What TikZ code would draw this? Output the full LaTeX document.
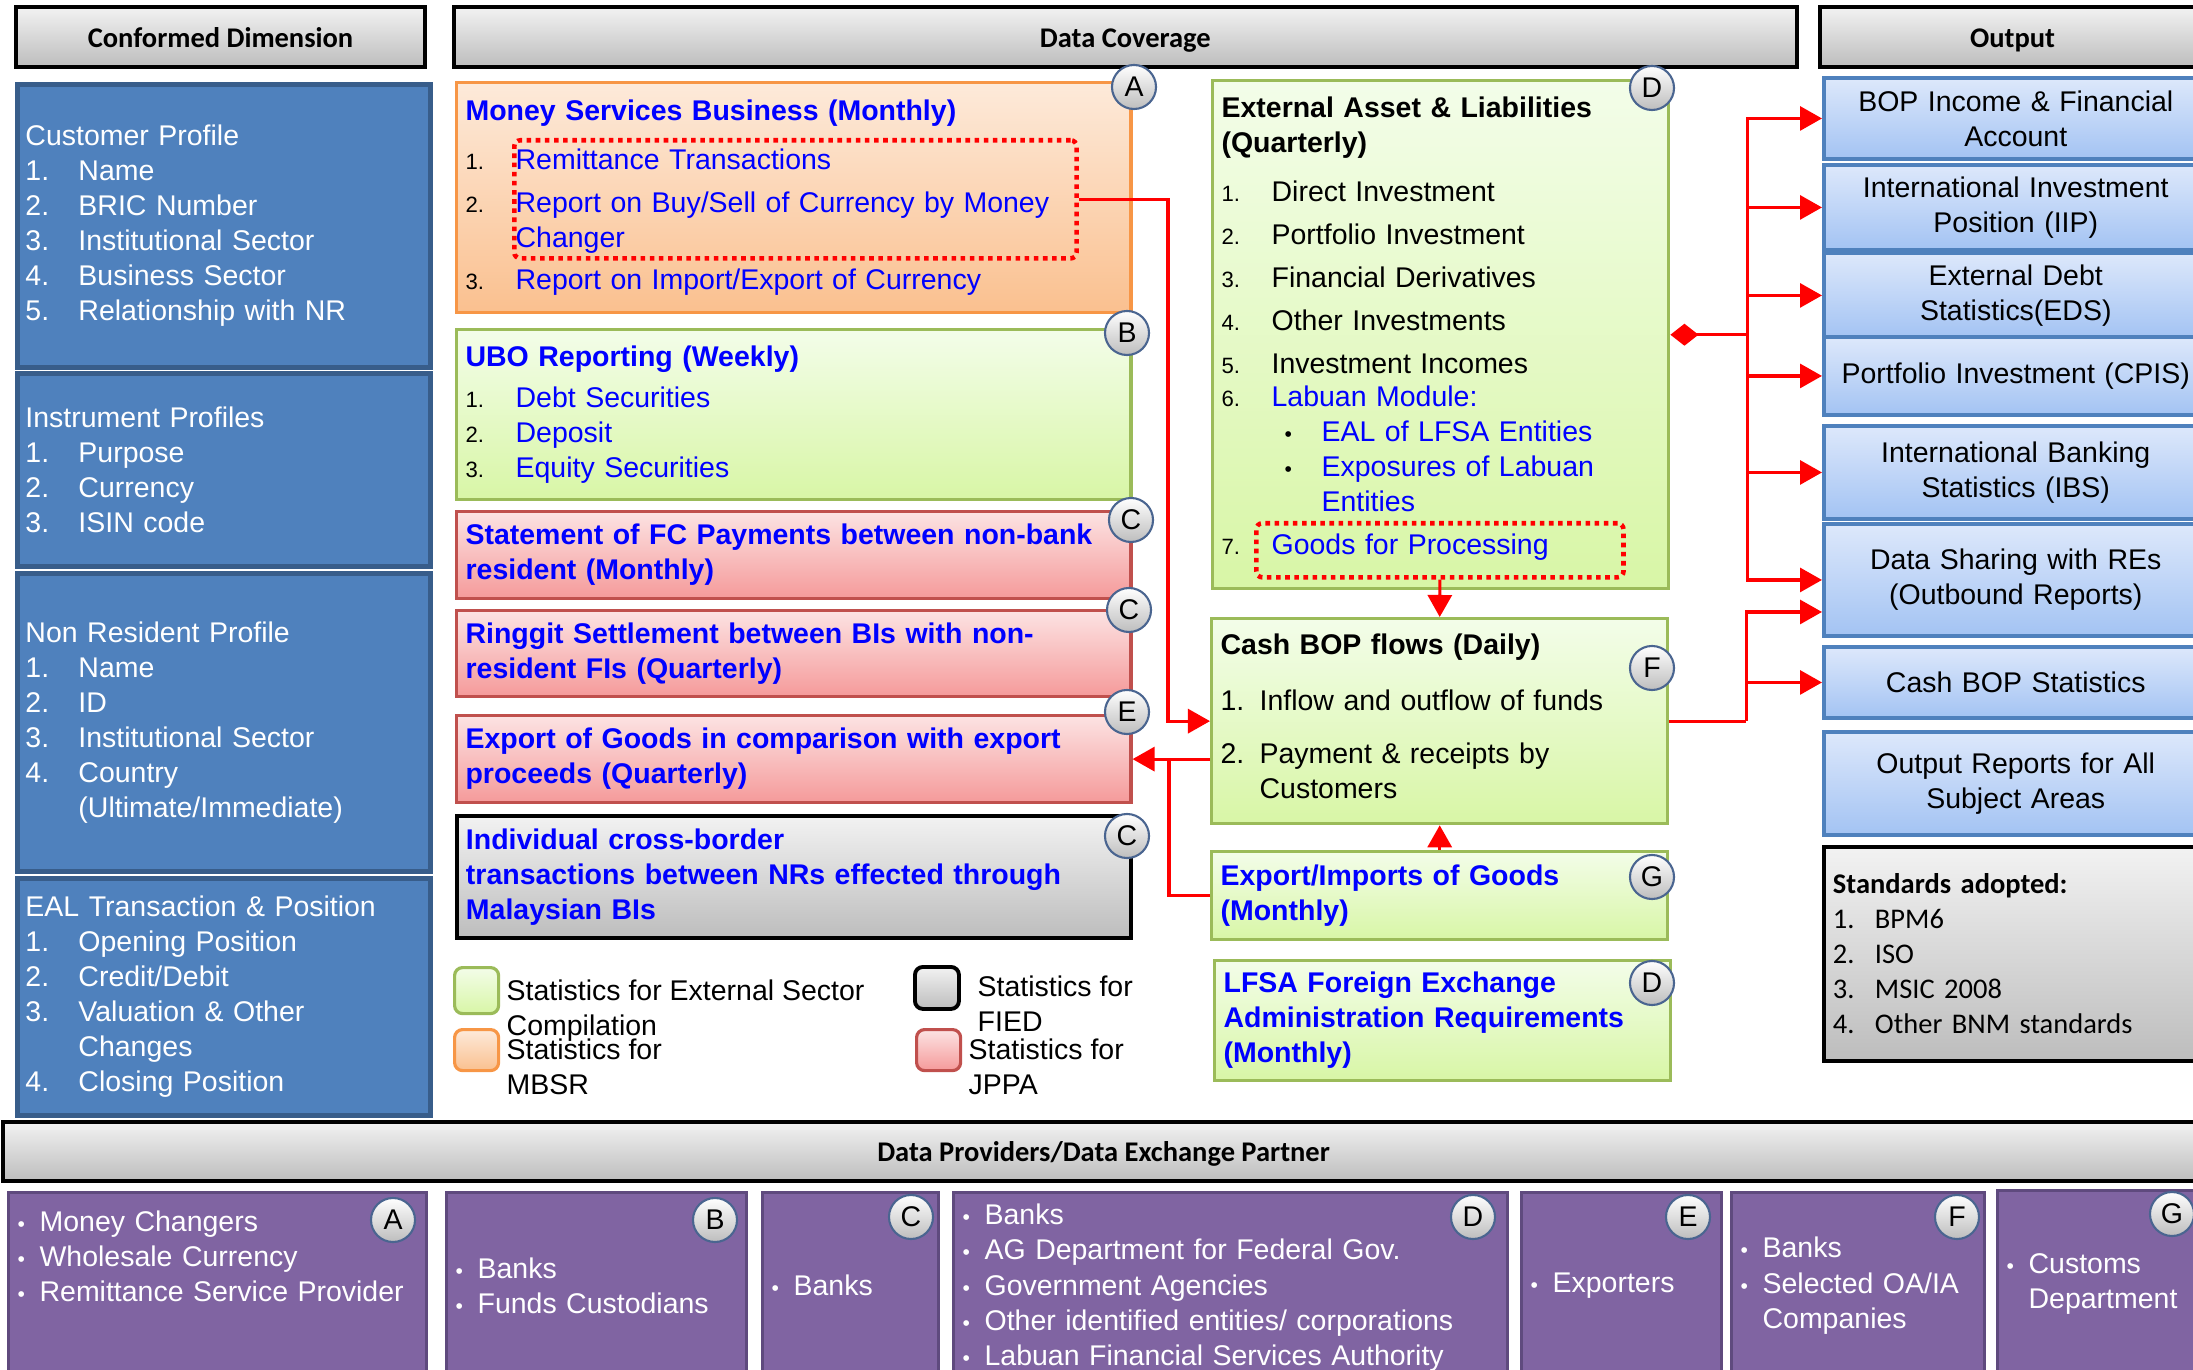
\documentclass[tikz,border=0pt]{standalone}
\usepackage{fontspec}
\setmainfont{Liberation Sans}
\newfontfamily\calibri{Carlito}
\usetikzlibrary{calc, arrows.meta, positioning}

\definecolor{dimblue}{HTML}{4F81BD}
\definecolor{dimedge}{HTML}{385D8A}
\definecolor{linkblue}{HTML}{0000FF}
\definecolor{orgtop}{HTML}{FDEADA}
\definecolor{orgbot}{HTML}{FAC08F}
\definecolor{orgedge}{HTML}{F79646}
\definecolor{grntop}{HTML}{F3FDE9}
\definecolor{grnbot}{HTML}{D8F6A6}
\definecolor{grnedge}{HTML}{9BBB59}
\definecolor{pnktop}{HTML}{FCE3E3}
\definecolor{pnkbot}{HTML}{F59A9A}
\definecolor{pnkedge}{HTML}{C0504D}
\definecolor{grytop}{HTML}{F2F2F2}
\definecolor{grybot}{HTML}{BDBDBD}
\definecolor{outtop}{HTML}{DDE8FB}
\definecolor{outbot}{HTML}{A3C3F3}
\definecolor{outedge}{HTML}{4F81BD}
\definecolor{purp}{HTML}{8064A2}
\definecolor{purpedge}{HTML}{5F4A7E}
\definecolor{badgeedge}{HTML}{4A6590}

\newcommand\fs{\fontsize{8.1}{9.96}\selectfont}
\newcommand\itm[2][0.53cm]{\makebox[#1][l]{#2}}
\newcommand\sn[1]{{\fontsize{6.3}{8}\selectfont #1}}
\newcommand\ttl[1]{{\bfseries\color{linkblue}#1}}
\newcommand\lnk[1]{{\color{linkblue}#1}}
\newcommand\bul{{\fontsize{6}{8}\selectfont\textbullet}}

\tikzset{
  base/.style={anchor=north west, align=left, font=\fs},
  hdr/.style={base, align=center, draw=black, line width=1.1pt, top color=grytop, bottom color=grybot, font=\calibri\bfseries\fs, text height=0.23cm, text depth=0.02cm},
  dimbox/.style={base, draw=dimedge, line width=1.4pt, fill=dimblue, text=white, minimum width=4.13cm, text width=3.97cm, inner xsep=0.08cm},
  covbox/.style={base, minimum width=6.74cm, text width=6.56cm, inner xsep=0.09cm},
  midbox/.style={base, minimum width=4.56cm, text width=4.38cm, inner xsep=0.09cm},
  orgfill/.style={draw=orgedge, line width=0.9pt, top color=orgtop, bottom color=orgbot},
  grnfill/.style={draw=grnedge, line width=0.9pt, top color=grntop, bottom color=grnbot},
  pnkfill/.style={draw=pnkedge, line width=0.9pt, top color=pnktop, bottom color=pnkbot},
  gryfill/.style={draw=black, line width=1.1pt, top color=grytop, bottom color=grybot},
  outbox/.style={base, align=center, draw=outedge, line width=1.1pt, top color=outtop, bottom color=outbot, minimum width=3.78cm, text width=3.6cm},
  provbox/.style={base, draw=purpedge, line width=0.9pt, fill=purp, text=white, minimum height=1.86cm, inner xsep=0.09cm},
  badge/.style={circle, draw=badgeedge, line width=0.6pt, top color=white, bottom color=grybot, minimum size=0.44cm, inner sep=0pt, font=\fs},
  swatch/.style={anchor=north west, rounded corners=0.08cm, minimum width=0.44cm, inner sep=0pt},
  legtext/.style={anchor=west, align=left, font=\fs, inner xsep=0.04cm},
  dotbox/.style={anchor=north west, draw=red, line width=1.3pt, dash pattern=on 1.3pt off 1.3pt, rounded corners=0.06cm, inner sep=0pt},
  wire/.style={draw=red, line width=0.9pt},
  flow/.style={wire, -{Triangle[length=0.22cm, width=0.24cm]}},
}

\begin{document}
\begin{tikzpicture}[x=0.01cm, y=-0.01cm]

  \useasboundingbox (0,0) rectangle (2193,1370);

  \node (hdim) [hdr, minimum width=4.09cm, minimum height=0.6cm] at (14,5) {Conformed Dimension};
  \node (hcov) [hdr, minimum width=13.42cm, minimum height=0.6cm] at (452,5) {Data Coverage};
  \node (hout) [hdr, minimum width=3.85cm, minimum height=0.6cm] at (1818,5) {Output};
  \node (hprov) [hdr, minimum width=22cm, minimum height=0.59cm] at (1,1120) {Data Providers/Data Exchange Partner};

  \node (cust) [dimbox, minimum height=2.83cm] at (15,82) {Customer Profile\\\itm{1.}Name\\\itm{2.}BRIC Number\\\itm{3.}Institutional Sector\\\itm{4.}Business Sector\\\itm{5.}Relationship with NR};
  \node (instr) [dimbox, minimum height=1.93cm] at (15,371) {Instrument Profiles\\\itm{1.}Purpose\\\itm{2.}Currency\\\itm{3.}ISIN code};
  \node (nonres) [dimbox, minimum height=2.98cm] at (15,571) {Non Resident Profile\\\itm{1.}Name\\\itm{2.}ID\\\itm{3.}Institutional Sector\\\itm{4.}Country\\\itm{}(Ultimate/Immediate)};
  \node (ealtp) [dimbox, minimum height=2.37cm] at (15,876) {EAL Transaction \& Position\\\itm{1.}Opening Position\\\itm{2.}Credit/Debit\\\itm{3.}Valuation \& Other\\\itm{}Changes\\\itm{4.}Closing Position};

  \node (msb) [covbox, orgfill, minimum height=2.30cm] at (455,81) {\ttl{Money Services Business (Monthly)}\\[0.14cm]
    \itm[0.5cm]{\sn{1.}}\lnk{Remittance Transactions}\\[0.07cm]
    \itm[0.5cm]{\sn{2.}}\lnk{Report on Buy/Sell of Currency by Money}\\\itm[0.5cm]{}\lnk{Changer}\\[0.07cm]
    \itm[0.5cm]{\sn{3.}}\lnk{Report on Import/Export of Currency}};
  \node (ubo) [covbox, grnfill, minimum height=1.70cm] at (455,328) {\ttl{UBO Reporting (Weekly)}\\[0.06cm]
    \itm[0.5cm]{\sn{1.}}\lnk{Debt Securities}\\\itm[0.5cm]{\sn{2.}}\lnk{Deposit}\\\itm[0.5cm]{\sn{3.}}\lnk{Equity Securities}};
  \node (fcpay) [covbox, pnkfill, minimum height=0.87cm] at (455,510) {\ttl{Statement of FC Payments between non-bank\\resident (Monthly)}};
  \node (ringgit) [covbox, pnkfill, minimum height=0.86cm] at (455,609) {\ttl{Ringgit Settlement between BIs with non-\\resident FIs (Quarterly)}};
  \node (expq) [covbox, pnkfill, minimum height=0.87cm] at (455,714) {\ttl{Export of Goods in comparison with export\\proceeds (Quarterly)}};
  \node (indiv) [covbox, gryfill, minimum height=1.22cm] at (455,814) {\ttl{Individual cross-border\\transactions between NRs effected through\\Malaysian BIs}};

  \node (eal) [midbox, grnfill, minimum height=5.08cm] at (1211,79) {{\bfseries External Asset \& Liabilities\\(Quarterly)}\\[0.14cm]
    \itm[0.5cm]{\sn{1.}}Direct Investment\\[0.08cm]
    \itm[0.5cm]{\sn{2.}}Portfolio Investment\\[0.08cm]
    \itm[0.5cm]{\sn{3.}}Financial Derivatives\\[0.08cm]
    \itm[0.5cm]{\sn{4.}}Other Investments\\[0.08cm]
    \itm[0.5cm]{\sn{5.}}Investment Incomes\\[-0.02cm]
    \itm[0.5cm]{\sn{6.}}\lnk{Labuan Module:}\\
    \hspace*{0.63cm}\itm[0.37cm]{\bul}\lnk{EAL of LFSA Entities}\\
    \hspace*{0.63cm}\itm[0.37cm]{\bul}\lnk{Exposures of Labuan}\\\hspace*{1cm}\lnk{Entities}\\[0.08cm]
    \itm[0.5cm]{\sn{7.}}\lnk{Goods for Processing}\\[-0.17cm]\mbox{}};
  \node (cashf) [midbox, grnfill, minimum height=2.05cm] at (1210,617) {{\bfseries Cash BOP flows (Daily)}\\[0.21cm]
    \itm[0.39cm]{1.}Inflow and outflow of funds\\[0.18cm]
    \itm[0.39cm]{2.}Payment \& receipts by\\\itm[0.39cm]{}Customers\\[-0.25cm]\mbox{}};
  \node (eximg) [midbox, grnfill, minimum height=0.88cm] at (1210,850) {\ttl{Export/Imports of Goods\\(Monthly)}};
  \node (lfsa) [midbox, grnfill, minimum height=1.15cm] at (1213,959) {\ttl{LFSA Foreign Exchange\\Administration Requirements\\(Monthly)}};

  \node (bop) [outbox, minimum height=0.81cm] at (1822,76) {BOP Income \& Financial\\Account};
  \node (iip) [outbox, minimum height=0.79cm] at (1822,163) {International Investment\\Position (IIP)};
  \node (eds) [outbox, minimum height=0.77cm] at (1822,251) {External Debt\\Statistics(EDS)};
  \node (cpis) [outbox, minimum height=0.78cm] at (1822,335) {Portfolio Investment (CPIS)};
  \node (ibs) [outbox, minimum height=0.93cm] at (1822,424) {International Banking\\Statistics (IBS)};
  \node (share) [outbox, minimum height=1.12cm] at (1822,522) {Data Sharing with REs\\(Outbound Reports)};
  \node (cashbop) [outbox, minimum height=0.71cm] at (1822,645) {Cash BOP Statistics};
  \node (allrep) [outbox, minimum height=1.03cm] at (1822,730) {Output Reports for All\\Subject Areas};
  \node (std) [base, gryfill, minimum width=3.78cm, text width=3.6cm, inner xsep=0.07cm, minimum height=2.14cm, font=\calibri\fs] at (1822,845) {{\bfseries Standards adopted:}\\
    \itm[0.42cm]{1.}BPM6\\\itm[0.42cm]{2.}ISO\\\itm[0.42cm]{3.}MSIC 2008\\\itm[0.42cm]{4.}Other BNM standards};

  \node (swG) [swatch, grnfill, minimum height=0.46cm] at (453,966) {};
  \node (swO) [swatch, orgfill, minimum height=0.41cm] at (453,1028) {};
  \node (swK) [swatch, gryfill, minimum height=0.42cm] at (913,965) {};
  \node (swP) [swatch, pnkfill, minimum height=0.41cm] at (915,1028) {};
  \node (legG) [legtext] at (502,1011) {Statistics for External Sector\\Compilation};
  \node (legO) [legtext] at (502,1067) {Statistics for\\MBSR};
  \node (legK) [legtext] at (973,1004) {Statistics for\\FIED};
  \node (legP) [legtext] at (964,1067) {Statistics for\\JPPA};

  \node (pA) [provbox, minimum width=4.18cm, text width=4cm] at (7,1191) {\itm[0.22cm]{\bul}Money Changers\\\itm[0.22cm]{\bul}Wholesale Currency\\\itm[0.22cm]{\bul}Remittance Service Provider\\[0.23cm]\mbox{}};
  \node (pB) [provbox, minimum width=3cm, text width=2.82cm] at (445,1191) {\itm[0.22cm]{\bul}Banks\\\itm[0.22cm]{\bul}Funds Custodians};
  \node (pC) [provbox, minimum width=1.76cm, text width=1.58cm] at (761,1191) {\itm[0.22cm]{\bul}Banks};
  \node (pD) [provbox, minimum width=5.54cm, text width=5.36cm] at (952,1191) {\itm[0.22cm]{\bul}Banks\\\itm[0.22cm]{\bul}AG Department for Federal Gov.\\\itm[0.22cm]{\bul}Government Agencies\\\itm[0.22cm]{\bul}Other identified entities/ corporations\\\itm[0.22cm]{\bul}Labuan Financial Services Authority};
  \node (pE) [provbox, minimum width=2cm, text width=1.82cm] at (1520,1191) {\itm[0.22cm]{\bul}Exporters};
  \node (pF) [provbox, minimum width=2.53cm, text width=2.35cm] at (1730,1191) {\itm[0.22cm]{\bul}Banks\\\itm[0.22cm]{\bul}Selected OA/IA\\\itm[0.22cm]{}Companies};
  \node (pG) [provbox, minimum width=2.1cm, text width=1.92cm] at (1996,1189) {\itm[0.22cm]{\bul}Customs\\\itm[0.22cm]{}Department};

  \node (bA) [badge] at (1134,87) {A};
  \node (bB) [badge] at (1127,333) {B};
  \node (bC1) [badge] at (1131,520) {C};
  \node (bC2) [badge] at (1129,610) {C};
  \node (bE) [badge] at (1127,712) {E};
  \node (bC3) [badge] at (1127,836) {C};
  \node (bD1) [badge] at (1652,88) {D};
  \node (bF) [badge] at (1652,668) {F};
  \node (bG) [badge] at (1652,877) {G};
  \node (bD2) [badge] at (1652,983) {D};
  \node (pbA) [badge] at (393,1220) {A};
  \node (pbB) [badge] at (715,1220) {B};
  \node (pbC) [badge] at (911,1217) {C};
  \node (pbD) [badge] at (1473,1217) {D};
  \node (pbE) [badge] at (1688,1217) {E};
  \node (pbF) [badge] at (1957,1217) {F};
  \node (pbG) [badge] at (2172,1214) {G};

  \node (remit) [dotbox, minimum width=5.62cm, minimum height=1.18cm] at (512,138) {};
  \node (gfp) [dotbox, minimum width=3.67cm, minimum height=0.54cm] at (1254,521) {};

  \draw[flow] (remit.east) -| ($(cashf.west)+(-42,0)$) -- (cashf.west);
  \draw[flow] (cashf.west |- expq.east) -- (expq.east);
  \draw[wire] (eximg.west) -| ($(cashf.west |- expq.east)+(-41,0)$);
  \draw[flow] (gfp.south) -- (cashf.north);
  \draw[flow] (eximg.north) -- (cashf.south);

  \draw[wire, {Diamond[length=0.28cm, width=0.22cm]}-] (eal.east) -- ++(77,0) coordinate (busD);
  \draw[flow] (busD) |- (bop.west);
  \draw[flow] (busD) |- (iip.west);
  \draw[flow] (busD) |- (eds.west);
  \draw[flow] (busD) |- (cpis.west);
  \draw[flow] (busD) |- (ibs.west);
  \draw[flow] (busD) |- (share.west);

  \draw[wire] (cashf.east) -- ++(77,0) coordinate (busF);
  \draw[flow] (busF) |- ([yshift=-0.32cm]share.west);
  \draw[flow] (busF) |- (cashbop.west);

\end{tikzpicture}
\end{document}
